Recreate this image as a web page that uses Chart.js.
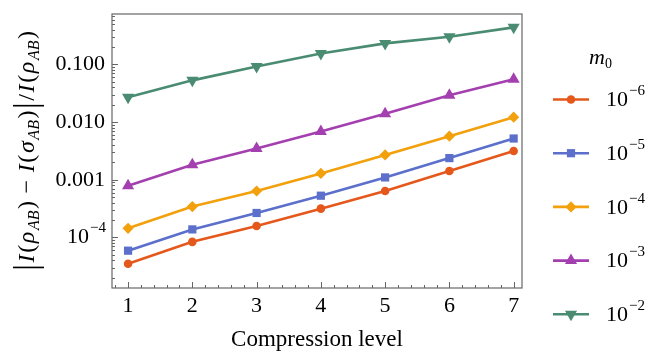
<!DOCTYPE html>
<html>
<head>
<meta charset="utf-8">
<script src="https://cdn.jsdelivr.net/npm/chart.js@4"></script>
<style>
  html, body { margin: 0; padding: 0; background: #fff; }
  #wrap { width: 657px; height: 354px; }
</style>
</head>
<body>
<div id="wrap"><canvas id="errChart"></canvas></div>
<script>
// compression levels on the x axis
var levels = [1, 2, 3, 4, 5, 6, 7];

// relative error for each m0
var errM6 = [3.5e-5, 8.4e-5, 1.58e-4, 3.16e-4, 6.4e-4, 1.42e-3, 3.15e-3];
var errM5 = [5.9e-5, 1.38e-4, 2.66e-4, 5.3e-4, 1.1e-3, 2.38e-3, 5.2e-3];
var errM4 = [1.44e-4, 3.43e-4, 6.4e-4, 1.29e-3, 2.7e-3, 5.7e-3, 1.22e-2];
var errM3 = [7.9e-4, 1.82e-3, 3.5e-3, 6.9e-3, 1.40e-2, 2.92e-2, 5.55e-2];
var errM2 = [2.7e-2, 5.3e-2, 9.2e-2, 1.55e-1, 2.32e-1, 3.03e-1, 4.4e-1];

// legend exponents of m0 (10^k)
var m0Exponents = [-6, -5, -4, -3, -2];

// y tick labels: [base, exponent]
var yTickValues = [1e-4, 1e-3, 1e-2, 1e-1];
var yTickLabels = [['10', '\u22124'], ['0.001', ''], ['0.010', ''], ['0.100', '']];

var SERIF = '"Liberation Serif", "DejaVu Serif", serif';
var FRAME = '#666666';

function pts(arr) {
  return levels.map(function (x, i) { return { x: x, y: arr[i] }; });
}

function series(arr, exp, color, style, radius, rot) {
  return {
    label: '10^' + exp,
    exponent: exp,
    data: pts(arr),
    borderColor: color,
    backgroundColor: color,
    borderWidth: 2.6,
    pointStyle: style,
    pointRadius: radius,
    pointHoverRadius: radius,
    pointRotation: rot || 0,
    pointBorderWidth: 0,
    tension: 0
  };
}

var allSeries = [
  series(errM6, m0Exponents[0], '#E5581C', 'circle', 4.3),
  series(errM5, m0Exponents[1], '#5B6FCB', 'rect', 5.8),
  series(errM4, m0Exponents[2], '#F2A00C', 'rectRot', 5.6),
  series(errM3, m0Exponents[3], '#A43FB0', 'triangle', 7),
  series(errM2, m0Exponents[4], '#4A8C72', 'triangle', 7, 180)
];

// text with a raised small part
function drawPower(ctx, x, y, base, sup, size, align) {
  ctx.font = size + 'px ' + SERIF;
  var wb = ctx.measureText(base).width;
  ctx.font = Math.round(size * 0.66) + 'px ' + SERIF;
  var ws = sup ? ctx.measureText(sup).width : 0;
  var x0 = align === 'right' ? x - wb - ws : x;
  ctx.textBaseline = 'middle';
  ctx.textAlign = 'left';
  ctx.font = size + 'px ' + SERIF;
  ctx.fillText(base, x0, y);
  if (sup) {
    ctx.font = Math.round(size * 0.66) + 'px ' + SERIF;
    ctx.fillText(sup, x0 + wb + 1, y - size * 0.42);
  }
}

var framePlugin = {
  id: 'frame',
  afterDatasetsDraw: function (chart) {
    var ctx = chart.ctx, a = chart.chartArea;
    var xs = chart.scales.x, ys = chart.scales.y;
    ctx.save();
    ctx.strokeStyle = FRAME;
    ctx.lineWidth = 1.2;
    ctx.strokeRect(a.left, a.top, a.right - a.left, a.bottom - a.top);
    ctx.lineWidth = 1;
    ctx.beginPath();
    // x ticks, inward, bottom only
    for (var t = 0.8; t <= xs.max + 1e-9; t += 0.2) {
      if (t < xs.min) continue;
      var major = Math.abs(t - Math.round(t)) < 1e-6;
      var px = Math.round(xs.getPixelForValue(t)) + 0.5;
      ctx.moveTo(px, a.bottom);
      ctx.lineTo(px, a.bottom - (major ? 6 : 3));
    }
    // y ticks, inward, left only
    for (var e = -6; e <= 0; e++) {
      for (var k = 1; k <= 9; k++) {
        var v = k * Math.pow(10, e);
        if (v < ys.min || v > ys.max) continue;
        var py = Math.round(ys.getPixelForValue(v)) + 0.5;
        ctx.moveTo(a.left, py);
        ctx.lineTo(a.left + (k === 1 ? 6 : 3), py);
      }
    }
    ctx.stroke();
    ctx.restore();
  },
  afterDraw: function (chart) {
    var ctx = chart.ctx, a = chart.chartArea, ys = chart.scales.y;
    ctx.save();
    ctx.fillStyle = '#000';
    // y tick labels
    yTickValues.forEach(function (v, i) {
      drawPower(ctx, 105, ys.getPixelForValue(v), yTickLabels[i][0], yTickLabels[i][1], 22, 'right');
    });

    // y axis title with subscripts
    var big = 24, sub = 16, bar = 33, gap = 1.6;
    var parts = [
      ['|', bar, false, 0], ['I', big, true, 0], ['(', big, false, 0], ['\u03C1', big, true, 0], ['AB', sub, true, 1],
      [')', big, false, 0], [' \u2212 ', big, false, 0], ['I', big, true, 0], ['(', big, false, 0], ['\u03C3', big, true, 0],
      ['AB', sub, true, 1], [')', big, false, 0], ['|', bar, false, 0], ['/', big, false, 0], ['I', big, true, 0],
      ['(', big, false, 0], ['\u03C1', big, true, 0], ['AB', sub, true, 1], [')', big, false, 0]
    ];
    var total = 0;
    parts.forEach(function (p) {
      ctx.font = (p[2] ? 'italic ' : '') + p[1] + 'px ' + SERIF;
      p.push(ctx.measureText(p[0]).width + gap);
      total += p[4];
    });
    ctx.translate(27, 150);
    ctx.rotate(-Math.PI / 2);
    ctx.textBaseline = 'alphabetic';
    ctx.textAlign = 'left';
    var cx = -total / 2;
    parts.forEach(function (p) {
      ctx.font = (p[2] ? 'italic ' : '') + p[1] + 'px ' + SERIF;
      var dy = 7 + (p[3] ? 5 : 0) + (p[1] === bar ? 3 : 0);
      ctx.fillText(p[0], cx, dy);
      cx += p[4];
    });
    ctx.setTransform(1, 0, 0, 1, 0, 0);

    // legend
    ctx.font = 'italic 22px ' + SERIF;
    ctx.textBaseline = 'middle';
    ctx.fillText('m', 589, 58);
    var wm = ctx.measureText('m').width;
    ctx.font = '14px ' + SERIF;
    ctx.fillText('0', 589 + wm, 64);
    chart.data.datasets.forEach(function (ds, i) {
      var y = 99.5 + i * 53.7;
      ctx.strokeStyle = ds.borderColor;
      ctx.lineWidth = ds.borderWidth;
      ctx.beginPath();
      ctx.moveTo(553, y);
      ctx.lineTo(589, y);
      ctx.stroke();
      ctx.fillStyle = ds.backgroundColor;
      Chart.helpers.drawPoint(ctx, { pointStyle: ds.pointStyle, radius: ds.pointRadius, rotation: ds.pointRotation, borderWidth: 0 }, 571, y);
      ctx.fillStyle = '#000';
      drawPower(ctx, 606, y + 1, '10', '\u2212' + Math.abs(ds.exponent), 22, 'left');
    });
    ctx.restore();
  }
};

var cChart = document.getElementById('errChart');
var errChart = new Chart(cChart, {
  type: 'line',
  data: { datasets: allSeries },
  options: {
    responsive: true,
    maintainAspectRatio: false,
    animation: false,
    layout: { padding: { left: 112, right: 135, top: 14, bottom: 0 } },
    plugins: {
      legend: { display: false },
      tooltip: { enabled: false }
    },
    scales: {
      x: {
        type: 'linear',
        min: 0.75,
        max: 7.13,
        grid: { display: false },
        border: { display: false },
        afterBuildTicks: function (scale) {
          scale.ticks = levels.map(function (v) { return { value: v }; });
        },
        ticks: {
          color: '#000',
          padding: -3,
          maxRotation: 0,
          font: { family: SERIF, size: 22 }
        },
        title: {
          display: true,
          text: 'Compression level',
          color: '#000',
          padding: { top: 10, bottom: 0 },
          font: { family: SERIF, size: 23 }
        }
      },
      y: {
        type: 'logarithmic',
        display: false,
        min: 1.33e-5,
        max: 0.75
      }
    }
  },
  plugins: [framePlugin]
});
</script>
</body>
</html>
